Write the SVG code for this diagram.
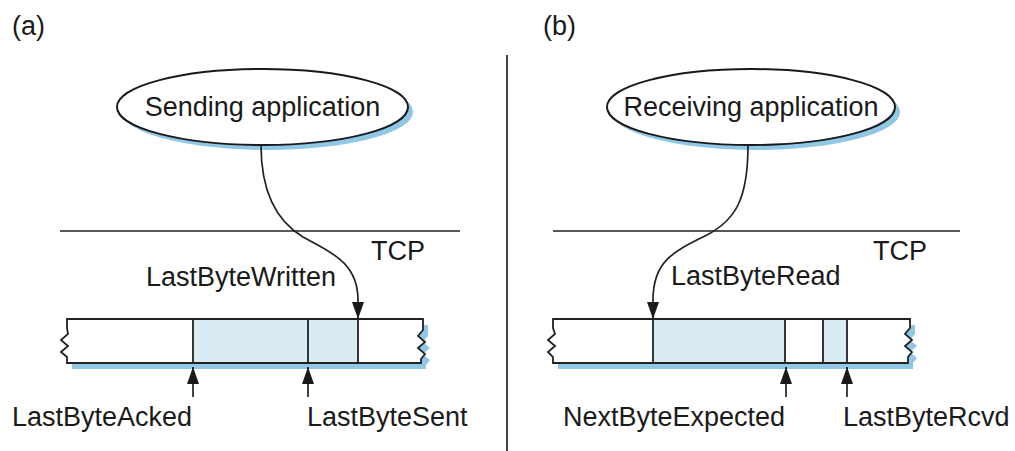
<svg xmlns="http://www.w3.org/2000/svg" width="1015" height="451" viewBox="0 0 1015 451">
<defs>
<style>
text{font-family:"Liberation Sans",Arial,sans-serif;font-size:27px;fill:#1a1a1a}
.ln{stroke:#222;stroke-width:1.7;fill:none}
.shadow{fill:#8fc7e5;stroke:none}
.buf{fill:#fff;stroke:none}
.bufo{fill:none;stroke:#222;stroke-width:1.8;stroke-linejoin:miter}
.shade{fill:#d9ecf4;stroke:none}
.div{stroke:#222;stroke-width:1.8}
.ell{fill:#fff;stroke:#1a1a1a;stroke-width:2}
</style>
<marker id="ahd" markerUnits="userSpaceOnUse" markerWidth="18" markerHeight="14" refX="17" refY="7" orient="auto" viewBox="0 0 18 14">
<path d="M0,1 L17,7 L0,13 Z" fill="#1a1a1a"/>
</marker>
</defs>
<rect width="1015" height="451" fill="#fff"/>

<g id="labels">
<text x="12" y="35">(a)</text>
<text x="543" y="35">(b)</text>
</g>

<line id="divider" x1="507" y1="55" x2="507" y2="451" class="ln"/>

<g id="tcp-left">
<line x1="60" y1="231" x2="460" y2="231" class="ln"/>
<text x="371" y="260">TCP</text>
</g>
<g id="tcp-right">
<line x1="553" y1="231" x2="960" y2="231" class="ln"/>
<text x="873" y="260">TCP</text>
</g>

<g id="sending-app">
<ellipse cx="267.5" cy="112" rx="145.5" ry="38" class="shadow"/>
<ellipse cx="262.5" cy="107" rx="145.5" ry="38" class="ell"/>
<text x="262.5" y="116" text-anchor="middle">Sending application</text>
</g>

<g id="receiving-app">
<ellipse cx="756" cy="112" rx="144" ry="38" class="shadow"/>
<ellipse cx="751" cy="107" rx="144" ry="38" class="ell"/>
<text x="751" y="116" text-anchor="middle">Receiving application</text>
</g>

<g id="send-buffer">
<path transform="translate(5,6)" class="shadow" d="M67,319 L423,319 L423,330 L418,336 L425,342 L418,348 L425,354 L421,359 L421,363 L67,363 L67,357 L61,352 L68,346 L61,340 L68,334 L67,328 Z"/>
<path class="buf" d="M67,319 L423,319 L423,330 L418,336 L425,342 L418,348 L425,354 L421,359 L421,363 L67,363 L67,357 L61,352 L68,346 L61,340 L68,334 L67,328 Z"/>
<rect x="193" y="319" width="165" height="44" class="shade"/>
<line x1="193" y1="319" x2="193" y2="363" class="div"/>
<line x1="308" y1="319" x2="308" y2="363" class="div"/>
<line x1="358" y1="319" x2="358" y2="363" class="div"/>
<path class="bufo" d="M67,319 L423,319 L423,330 L418,336 L425,342 L418,348 L425,354 L421,359 L421,363 L67,363 L67,357 L61,352 L68,346 L61,340 L68,334 L67,328 Z"/>
</g>

<g id="recv-buffer">
<path transform="translate(5,6)" class="shadow" d="M553,319 L910,319 L910,328 L905,334 L912,340 L905,346 L912,352 L908,357 L908,363 L553,363 L553,357 L548,352 L555,346 L548,340 L555,334 L553,328 Z"/>
<path class="buf" d="M553,319 L910,319 L910,328 L905,334 L912,340 L905,346 L912,352 L908,357 L908,363 L553,363 L553,357 L548,352 L555,346 L548,340 L555,334 L553,328 Z"/>
<rect x="653" y="319" width="132" height="44" class="shade"/>
<rect x="823" y="319" width="24" height="44" class="shade"/>
<line x1="653" y1="319" x2="653" y2="363" class="div"/>
<line x1="785" y1="319" x2="785" y2="363" class="div"/>
<line x1="823" y1="319" x2="823" y2="363" class="div"/>
<line x1="847" y1="319" x2="847" y2="363" class="div"/>
<path class="bufo" d="M553,319 L910,319 L910,328 L905,334 L912,340 L905,346 L912,352 L908,357 L908,363 L553,363 L553,357 L548,352 L555,346 L548,340 L555,334 L553,328 Z"/>
</g>

<g id="connectors">
<path class="ln" marker-end="url(#ahd)" d="M261,145 C261,195 278,222 303,237 C330,252 358,262 358,300 L358,319"/>
<path class="ln" marker-end="url(#ahd)" d="M748,145 C748,200 735,220 707,235 C672,252 653,262 653,300 L653,319"/>
<line class="ln" marker-end="url(#ahd)" x1="193" y1="397" x2="193" y2="367"/>
<line class="ln" marker-end="url(#ahd)" x1="308" y1="397" x2="308" y2="367"/>
<line class="ln" marker-end="url(#ahd)" x1="786" y1="397" x2="786" y2="367"/>
<line class="ln" marker-end="url(#ahd)" x1="847" y1="397" x2="847" y2="367"/>
</g>

<g id="pointer-labels">
<text x="146" y="286">LastByteWritten</text>
<text x="671" y="285">LastByteRead</text>
<text x="12" y="426">LastByteAcked</text>
<text x="307" y="426">LastByteSent</text>
<text x="563" y="426">NextByteExpected</text>
<text x="843" y="426">LastByteRcvd</text>
</g>
</svg>
